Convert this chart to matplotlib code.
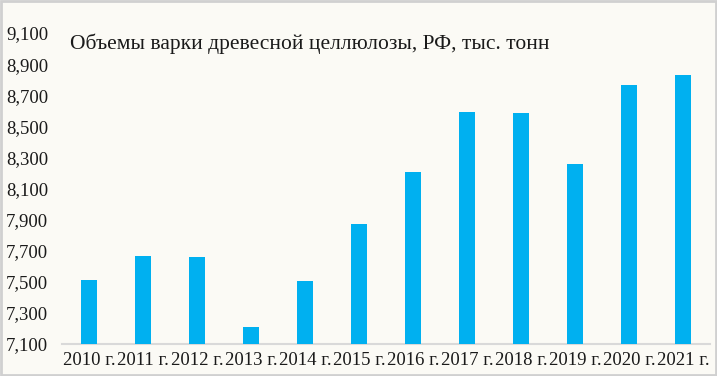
import matplotlib
matplotlib.use("Agg")
import matplotlib.pyplot as plt
from matplotlib.ticker import FuncFormatter
from matplotlib.patches import Rectangle

years = ["2010 г.", "2011 г.", "2012 г.", "2013 г.", "2014 г.", "2015 г.",
         "2016 г.", "2017 г.", "2018 г.", "2019 г.", "2020 г.", "2021 г."]
values = [7511, 7668, 7662, 7211, 7507, 7874, 8206, 8590, 8584, 8255, 8768, 8828]
y_ticks = [7100, 7300, 7500, 7700, 7900, 8100, 8300, 8500, 8700, 8900, 9100]
title = "Объемы варки древесной целлюлозы, РФ, тыс. тонн"

bg = "#FBFAF5"
plt.rcParams['font.family'] = ['Liberation Serif', 'DejaVu Serif']

fig = plt.figure(figsize=(7.17, 3.76), dpi=100, facecolor=bg)
ax = fig.add_axes([62/717, 1-344/376, 648/717, 311/376])
ax.set_facecolor(bg)

x = list(range(len(years)))
ax.bar(x, values, width=0.3, color="#00B0F0", zorder=3)
ax.set_xlim(-0.5, len(years) - 0.5)
ax.set_ylim(y_ticks[0], y_ticks[-1])
ax.set_yticks(y_ticks)
ax.yaxis.set_major_formatter(FuncFormatter(lambda v, p: f"{int(v):,}"))
ax.set_xticks(x)
ax.set_xticklabels(years)
for s in ["top", "right", "left"]:
    ax.spines[s].set_visible(False)
ax.spines["bottom"].set_color("#D9D9D9")
ax.spines["bottom"].set_linewidth(1.5)
ax.tick_params(axis="both", length=0, labelsize=13.5, colors="#1a1a1a")
ax.tick_params(axis="y", pad=10)
ax.tick_params(axis="x", pad=6)

fig.text(70/717, 1-44/376, title, fontsize=15.5, va="center", ha="left", color="#1a1a1a")

fig.patches.append(Rectangle((0.001, 0.002), 0.997, 0.995, transform=fig.transFigure,
                             fill=False, edgecolor="#D0D0D0", linewidth=2))
fig.savefig("out.png", dpi=100, facecolor=bg)
